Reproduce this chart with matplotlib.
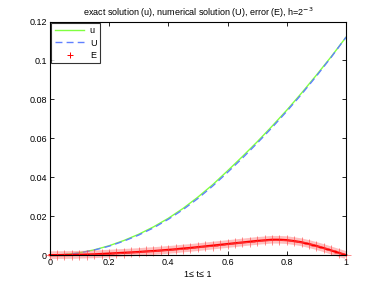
import matplotlib
matplotlib.use("Agg")
import matplotlib.pyplot as plt

t_uU = [0, 0.05, 0.1, 0.15, 0.2, 0.25, 0.3, 0.35, 0.4, 0.45, 0.5, 0.55, 0.6,
        0.65, 0.7, 0.75, 0.8, 0.85, 0.9, 0.95, 1.0]
u = [0, 0.0003, 0.0012, 0.0027, 0.0048, 0.0075, 0.0107, 0.0145, 0.0189, 0.0240,
     0.0298, 0.0362, 0.0433, 0.0506, 0.0582, 0.0662, 0.0745, 0.0833, 0.0925,
     0.1020, 0.1120]
U = [0, 0.0003, 0.0011, 0.0026, 0.0046, 0.0072, 0.0103, 0.0140, 0.0184, 0.0234,
     0.0291, 0.0355, 0.0425, 0.0498, 0.0575, 0.0655, 0.0739, 0.0827, 0.0920,
     0.1017, 0.1120]
t_E = [0, 0.025, 0.05, 0.075, 0.1, 0.125, 0.15, 0.175, 0.2, 0.225, 0.25, 0.275,
       0.3, 0.325, 0.35, 0.375, 0.4, 0.425, 0.45, 0.475, 0.5, 0.525, 0.55, 0.575,
       0.6, 0.625, 0.65, 0.675, 0.7, 0.725, 0.75, 0.775, 0.8, 0.825, 0.85, 0.875,
       0.9, 0.925, 0.95, 0.975, 1.0]
E = [0, 0.00002, 0.00005, 0.0001, 0.0002, 0.0003, 0.0004, 0.0006, 0.0008, 0.0010,
     0.0012, 0.0014, 0.0016, 0.0019, 0.0021, 0.0024, 0.0027, 0.0030, 0.0034,
     0.0037, 0.0041, 0.0045, 0.0049, 0.0053, 0.0057, 0.0061, 0.0065, 0.0069,
     0.0073, 0.0076, 0.0079, 0.0079, 0.0077, 0.0072, 0.0066, 0.0057, 0.0047,
     0.0036, 0.0024, 0.0012, 0]
xticks = [0, 0.2, 0.4, 0.6, 0.8, 1]
xticklabels = ["0", "0.2", "0.4", "0.6", "0.8", "1"]
yticks = [0, 0.02, 0.04, 0.06, 0.08, 0.1, 0.12]
yticklabels = ["0", "0.02", "0.04", "0.06", "0.08", "0.1", "0.12"]

plt.rcParams['font.family'] = ['Liberation Sans', 'DejaVu Sans']
fig = plt.figure(figsize=(3.82, 2.87), dpi=100)
ax = fig.add_axes([0.13, 0.111, 0.776, 0.814])

ax.plot(t_uU, u, color='#80ff40', lw=1.0, label='u')
ax.plot(t_uU, U, color='#6080ff', lw=1.0, ls=(0, (5, 3)), label='U')
ax.plot(t_E, E, color='#ff7070', lw=5.5, alpha=0.45, solid_capstyle='butt',
        label='_nolegend_', clip_on=False)
ax.plot(t_E, E, color='red', lw=1.6, label='_nolegend_', clip_on=False)
ax.plot(t_E, E, color='#ff4040', ls='none', marker='+', ms=6.5, mew=0.7,
        alpha=0.6, label='E', clip_on=False)

ax.set_xlim(0, 1)
ax.set_ylim(0, 0.12)
ax.set_xticks(xticks)
ax.set_xticklabels(xticklabels)
ax.set_yticks(yticks)
ax.set_yticklabels(yticklabels)
ax.tick_params(direction='in', top=True, right=True, length=3, width=0.6,
               labelsize=6.5, pad=2)
for s in ax.spines.values():
    s.set_linewidth(0.8)

ax.set_title(r"exact solution (u), numerical solution (U), error (E), h=2$^{-3}$",
             fontsize=6.5, pad=4)
ax.set_xlabel("1≤ t≤ 1", fontsize=6.5, labelpad=2)

leg = ax.legend(loc='upper left', fontsize=6.5, frameon=True, fancybox=False,
                edgecolor='black', borderaxespad=0.15, handlelength=3.3,
                handletextpad=0.6, labelspacing=0.35, borderpad=0.4)
leg.get_frame().set_linewidth(0.8)
leg.legend_handles[2].set_markersize(5)
leg.legend_handles[2].set_color('red')
leg.legend_handles[2].set_alpha(1)

fig.savefig("out.png", dpi=100)
